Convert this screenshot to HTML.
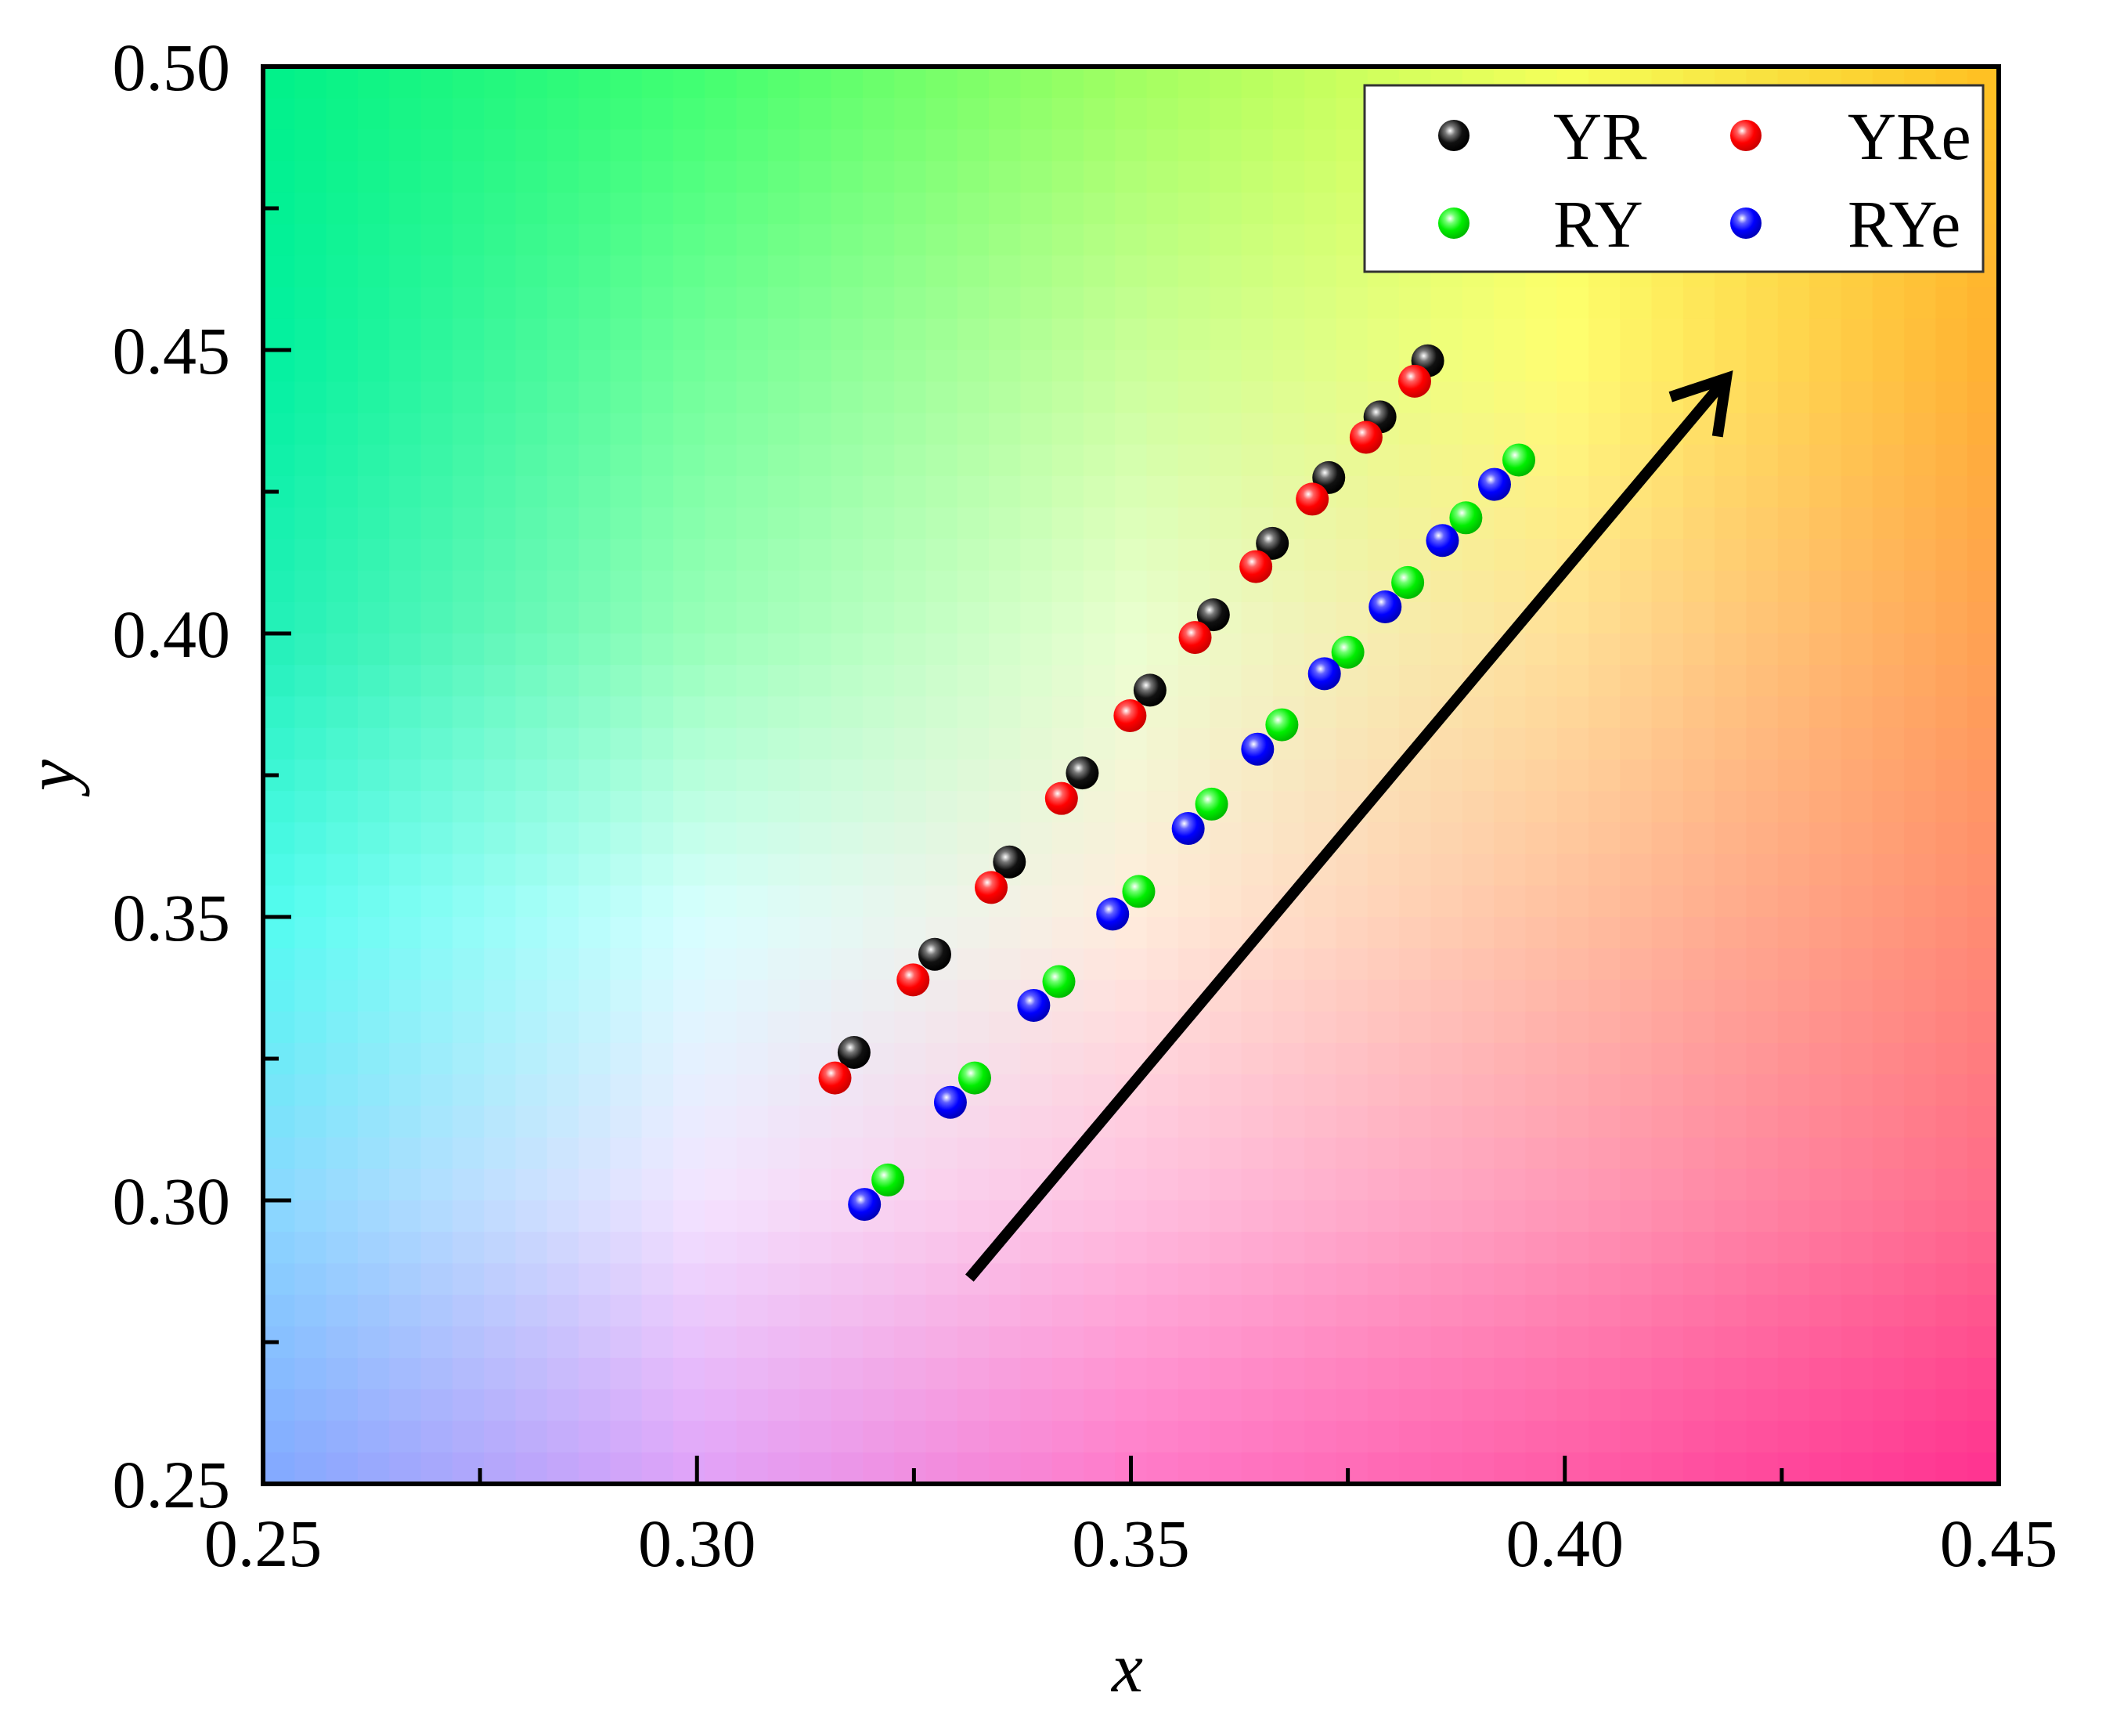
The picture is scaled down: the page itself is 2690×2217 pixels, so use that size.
<!DOCTYPE html>
<html><head><meta charset="utf-8"><style>
html,body{margin:0;padding:0;background:#fff;}
svg{display:block;font-family:"Liberation Serif",serif;}
</style></head><body>
<svg id="chart" width="2690" height="2217" viewBox="0 0 2690 2217" xmlns="http://www.w3.org/2000/svg">
<defs>
<clipPath id="plotclip"><rect x="336" y="85" width="2217" height="1810"/></clipPath>
<radialGradient id="g-black" cx="0.38" cy="0.35" r="0.65"><stop offset="0" stop-color="#fff"/><stop offset="0.25" stop-color="#777"/><stop offset="0.6" stop-color="#111"/><stop offset="1" stop-color="#000"/></radialGradient>
<radialGradient id="g-red" cx="0.38" cy="0.35" r="0.65"><stop offset="0" stop-color="#fff"/><stop offset="0.25" stop-color="#ff6060"/><stop offset="0.6" stop-color="#f00"/><stop offset="1" stop-color="#c00"/></radialGradient>
<radialGradient id="g-green" cx="0.38" cy="0.35" r="0.65"><stop offset="0" stop-color="#fff"/><stop offset="0.25" stop-color="#70ff70"/><stop offset="0.6" stop-color="#0e0"/><stop offset="1" stop-color="#0b0"/></radialGradient>
<radialGradient id="g-blue" cx="0.38" cy="0.35" r="0.65"><stop offset="0" stop-color="#fff"/><stop offset="0.25" stop-color="#6060ff"/><stop offset="0.6" stop-color="#00f"/><stop offset="1" stop-color="#00b"/></radialGradient>
</defs>
<g id="bg" clip-path="url(#plotclip)"></g>
<g id="arrow"></g>
<g id="marks"></g>
<rect x="336" y="85" width="2217" height="1810" fill="none" stroke="#000" stroke-width="6"/>
<g id="axes"></g>
<text x="1440" y="2160" font-size="90" font-style="italic" text-anchor="middle">x</text>
<text x="0" y="0" font-size="90" font-style="italic" text-anchor="middle" transform="translate(95,990) rotate(-90)">y</text>
<g>
<rect x="1743" y="109" width="790" height="238" fill="#fff" stroke="#333" stroke-width="3"/>
<g><circle cx="1857" cy="173" r="20" fill="url(#g-black)"/><text x="1984" y="203" font-size="86">YR</text></g>
<g><circle cx="2230" cy="173" r="20" fill="url(#g-red)"/><text x="2360" y="203" font-size="86">YRe</text></g>
<g><circle cx="1857" cy="285" r="20" fill="url(#g-green)"/><text x="1984" y="315" font-size="86">RY</text></g>
<g><circle cx="2230" cy="285" r="20" fill="url(#g-blue)"/><text x="2360" y="315" font-size="86">RYe</text></g>
</g>
</svg>
<script>
const xTicks = [0.25, 0.30, 0.35, 0.40, 0.45];
const yTicks = [0.25, 0.30, 0.35, 0.40, 0.45, 0.50];
const xTickLabels = ["0.25","0.30","0.35","0.40","0.45"];
const yTickLabels = ["0.25","0.30","0.35","0.40","0.45","0.50"];
const seriesNames = ["YR","YRe","RY","RYe"];
const yrX = [0.3181,0.3274,0.3360,0.3444,0.3522,0.3595,0.3663,0.3728,0.3787,0.3842];
const yrY = [0.3261,0.3434,0.3597,0.3754,0.3900,0.4033,0.4159,0.4275,0.4382,0.4481];
const yreX = [0.3159,0.3249,0.3339,0.3420,0.3499,0.3574,0.3644,0.3709,0.3771,0.3827];
const yreY = [0.3216,0.3389,0.3552,0.3709,0.3855,0.3993,0.4118,0.4237,0.4346,0.4445];
const ryX = [0.3220,0.3320,0.3417,0.3509,0.3593,0.3674,0.3750,0.3819,0.3886,0.3947];
const ryY = [0.3036,0.3216,0.3386,0.3545,0.3699,0.3839,0.3967,0.4090,0.4204,0.4306];
const ryeX = [0.3193,0.3292,0.3388,0.3479,0.3566,0.3646,0.3723,0.3793,0.3859,0.3919];
const ryeY = [0.2993,0.3173,0.3344,0.3505,0.3656,0.3796,0.3929,0.4047,0.4164,0.4263];
const arrowStart = [0.3314, 0.2863];
const arrowEnd = [0.4186, 0.4450];

const NS = "http://www.w3.org/2000/svg";
const L=336,R=2553,T=85,B=1895;
const sx = v => L + (v-0.25)/0.20*(R-L);
const sy = v => B - (v-0.25)/0.25*(B-T);

// background colour grid (rows y=0.50..0.25, cols x=0.25..0.45)
const gridRows = [
 ["#00f08a","#40ff70","#a0ff60","#f4ff58","#ffc020"],
 ["#00f0a0","#70ff98","#c8ff98","#ffff70","#ffb030"],
 ["#20f0b8","#98ffb8","#eaffd0","#ffe098","#ffa050"],
 ["#50fcf0","#d8ffff","#ffecdc","#ffc0a0","#ff8a70"],
 ["#88d8ff","#f4e4ff","#ffc0e0","#ff9ab8","#ff6a8a"],
 ["#80a8ff","#e0a0f8","#ff78c8","#ff5aa6","#ff3090"]];
function hex(c){return [parseInt(c.slice(1,3),16),parseInt(c.slice(3,5),16),parseInt(c.slice(5,7),16)];}
const G = gridRows.map(r=>r.map(hex));
const bg = document.getElementById('bg');
const nx=55, ny=45, cw=(R-L)/nx, ch=(B-T)/ny;
for(let i=0;i<nx;i++){for(let j=0;j<ny;j++){
  const u=(i+0.5)/nx*4, v=(j+0.5)/ny*5;
  const i0=Math.min(3,Math.floor(u)), j0=Math.min(4,Math.floor(v));
  const fu=u-i0, fv=v-j0;
  const c=[0,1,2].map(k=>G[j0][i0][k]*(1-fu)*(1-fv)+G[j0][i0+1][k]*fu*(1-fv)+G[j0+1][i0][k]*(1-fu)*fv+G[j0+1][i0+1][k]*fu*fv);
  const r=document.createElementNS(NS,'rect');
  r.setAttribute('x',(L+i*cw).toFixed(1));r.setAttribute('y',(T+j*ch).toFixed(1));
  r.setAttribute('width',(cw+1).toFixed(1));r.setAttribute('height',(ch+1).toFixed(1));
  r.setAttribute('fill',`rgb(${Math.round(c[0])},${Math.round(c[1])},${Math.round(c[2])})`);
  bg.appendChild(r);
}}

// arrow
const ag=document.getElementById('arrow');
const x1=sx(arrowStart[0]),y1=sy(arrowStart[1]),x2=sx(arrowEnd[0]),y2=sy(arrowEnd[1]);
const ln=document.createElementNS(NS,'line');
ln.setAttribute('x1',x1);ln.setAttribute('y1',y1);ln.setAttribute('x2',x2);ln.setAttribute('y2',y2);
ln.setAttribute('stroke','#000');ln.setAttribute('stroke-width','14');


ag.appendChild(ln);
const ang=Math.atan2(y2-y1,x2-x1), hl=75;
const hp=document.createElementNS(NS,'path');
const p1=[x2-hl*Math.cos(ang-0.55),y2-hl*Math.sin(ang-0.55)], p2=[x2-hl*Math.cos(ang+0.55),y2-hl*Math.sin(ang+0.55)];
hp.setAttribute('d',`M${p1[0]},${p1[1]} L${x2},${y2} L${p2[0]},${p2[1]}`);
hp.setAttribute('fill','none');hp.setAttribute('stroke','#000');hp.setAttribute('stroke-width','14');


ag.appendChild(hp);

// markers
const mg=document.getElementById('marks');
const sets=[[yrX,yrY,'black','yr'],[yreX,yreY,'red','yre'],[ryX,ryY,'green','ry'],[ryeX,ryeY,'blue','rye']];
for(const s of sets){
  const g=document.createElementNS(NS,'g');
  
  
  for(let i=0;i<s[0].length;i++){
    const c=document.createElementNS(NS,'circle');
    c.setAttribute('cx',sx(s[0][i]));c.setAttribute('cy',sy(s[1][i]));c.setAttribute('r','21');
    c.setAttribute('fill','url(#g-'+s[2]+')');
    
    
    g.appendChild(c);
  }
  mg.appendChild(g);
}

// axes ticks and labels
const ax=document.getElementById('axes');
function line(a,b,c,d,w){const l=document.createElementNS(NS,'line');l.setAttribute('x1',a);l.setAttribute('y1',b);l.setAttribute('x2',c);l.setAttribute('y2',d);l.setAttribute('stroke','#000');l.setAttribute('stroke-width',w);return l;}
for(let i=0;i<xTicks.length;i++){
  const x=sx(xTicks[i]);
  const t=line(x,B,x,B-36,5);
  
  
  ax.appendChild(t);
  if(i<xTicks.length-1){const xm=sx((xTicks[i]+xTicks[i+1])/2);const m=line(xm,B,xm,B-20,5);
    
    
    ax.appendChild(m);}
  const tx=document.createElementNS(NS,'text');
  tx.setAttribute('x',x);tx.setAttribute('y',2000);tx.setAttribute('font-size','86');tx.setAttribute('text-anchor','middle');
  tx.textContent=xTickLabels[i];
  
  
  ax.appendChild(tx);
}
for(let i=0;i<yTicks.length;i++){
  const y=sy(yTicks[i]);
  const t=line(L,y,L+36,y,5);
  
  
  ax.appendChild(t);
  if(i<yTicks.length-1){const ym=sy((yTicks[i]+yTicks[i+1])/2);const m=line(L,ym,L+20,ym,5);
    
    
    ax.appendChild(m);}
  const tx=document.createElementNS(NS,'text');
  tx.setAttribute('x',294);tx.setAttribute('y',y+30);tx.setAttribute('font-size','86');tx.setAttribute('text-anchor','end');
  tx.textContent=yTickLabels[i];
  
  
  ax.appendChild(tx);
}
</script>
</body></html>
